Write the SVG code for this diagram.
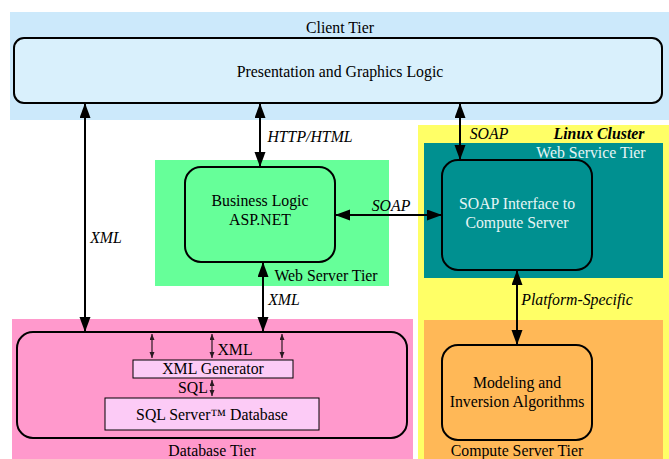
<svg xmlns="http://www.w3.org/2000/svg" width="669" height="459" viewBox="0 0 669 459">
<style>
text{font-family:"Liberation Serif","Times New Roman",serif;font-size:15.8px;fill:#000;text-anchor:middle}
.it{font-style:italic}
.node{stroke:#000;stroke-width:2}
.conn{stroke:#000;stroke-width:2;fill:none;marker-start:url(#ah);marker-end:url(#ah)}
.small{stroke:#2a1a22;stroke-width:1.2;fill:none;marker-start:url(#sh);marker-end:url(#sh)}
</style>
<defs>
<marker id="ah" markerUnits="userSpaceOnUse" markerWidth="16" markerHeight="12" refX="15" refY="5.5" orient="auto-start-reverse"><path d="M0,0 L15,5.5 L0,11 z" fill="#000"/></marker>
<marker id="sh" markerUnits="userSpaceOnUse" markerWidth="7" markerHeight="6" refX="6" refY="2.5" orient="auto-start-reverse"><path d="M0,0 L6,2.5 L0,5 z" fill="#2a1a22"/></marker>
</defs>
<g id="tiers">
<rect x="10" y="12" width="659" height="108" fill="#cce9fb"/>
<rect x="155" y="160" width="234" height="126" fill="#66ff99"/>
<rect x="418" y="125" width="251" height="334" fill="#ffff66"/>
<rect x="424" y="143" width="239" height="135" fill="#009090"/>
<rect x="424" y="320" width="239" height="139" fill="#ffb857"/>
<rect x="12" y="319" width="401" height="140" fill="#ff99cc"/>
<text x="340" y="33">Client Tier</text>
<text x="326" y="281">Web Server Tier</text>
<text x="599" y="139" style="font-weight:bold;font-style:italic">Linux Cluster</text>
<text x="591" y="158" style="fill:#e6f5f5">Web Service Tier</text>
<text x="517" y="456">Compute Server Tier</text>
<text x="212" y="456">Database Tier</text>
</g>
<g id="client">
<rect class="node" x="14" y="38" width="648" height="65" rx="10" fill="#d9f0fc"/>
<text x="340" y="77">Presentation and Graphics Logic</text>
</g>
<g id="business">
<rect class="node" x="185" y="167" width="150" height="95" rx="16" fill="#66ff99"/>
<text x="260" y="206">Business Logic</text>
<text x="260" y="225">ASP.NET</text>
</g>
<g id="soap">
<rect class="node" x="442" y="160" width="150" height="110" rx="16" fill="#009090"/>
<text x="517" y="209" style="fill:#e6f5f5">SOAP Interface to</text>
<text x="517" y="228" style="fill:#e6f5f5">Compute Server</text>
</g>
<g id="modeling">
<rect class="node" x="442" y="345" width="150" height="95" rx="16" fill="#ffb857"/>
<text x="517" y="388">Modeling and</text>
<text x="517" y="407">Inversion Algorithms</text>
</g>
<g id="database">
<rect class="node" x="17" y="332" width="390" height="106" rx="16" fill="#ff99cc"/>
<rect x="133" y="360" width="160" height="18" fill="#fccbf6" stroke="#000" stroke-width="1"/>
<text x="213" y="374">XML Generator</text>
<rect x="105" y="398" width="214" height="32" fill="#fccbf6" stroke="#000" stroke-width="1"/>
<text x="212" y="420">SQL Server™ Database</text>
<path class="small" d="M152,334 V358"/>
<path class="small" d="M212,334 V358"/>
<path class="small" d="M282,334 V358"/>
<path class="small" d="M212,380 V396"/>
<text x="235" y="355">XML</text>
<text x="193" y="393">SQL</text>
</g>
<g id="connectors">
<path class="conn" d="M85,103 V332"/>
<path class="conn" d="M260,103 V167"/>
<path class="conn" d="M460,103 V160"/>
<path class="conn" d="M335,215 H442"/>
<path class="conn" d="M263,262 V332"/>
<path class="conn" d="M517,270 V345"/>
<text class="it" x="106" y="243">XML</text>
<text class="it" x="310" y="142">HTTP/HTML</text>
<text class="it" x="489" y="139">SOAP</text>
<text class="it" x="391" y="211">SOAP</text>
<text class="it" x="284" y="305">XML</text>
<text class="it" x="577" y="305">Platform-Specific</text>
</g>
</svg>
